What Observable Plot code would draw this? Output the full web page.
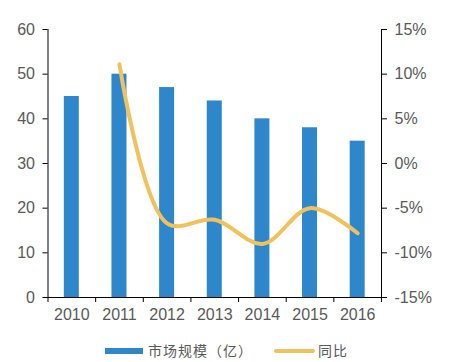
<!DOCTYPE html>
<html>
<head>
<meta charset="utf-8">
<script src="https://cdn.jsdelivr.net/npm/d3@7"></script>
<script src="https://cdn.jsdelivr.net/npm/@observablehq/plot@0.6"></script>
<style>
  html, body { margin: 0; padding: 0; background: #fff; }
  #wrap { position: relative; width: 463px; height: 362px; font-family: "Liberation Sans", Arial, sans-serif; }
  .sw { position: absolute; }
  .lt { position: absolute; font-family: "Noto Sans CJK SC", sans-serif; font-size: 14px; color: #595959; line-height: 14px; letter-spacing: 1px; }
</style>
</head>
<body>
<div id="wrap"></div>
<script>
const years = ["2010", "2011", "2012", "2013", "2014", "2015", "2016"];
const marketSize = [45, 50, 47, 44, 40, 38, 35];
const yoyYears = ["2011", "2012", "2013", "2014", "2015", "2016"];
const yoyPct = [11.1, -6.7, -6.3, -9.0, -5.0, -7.8];
const leftTicks = [0, 10, 20, 30, 40, 50, 60];
const rightTickLabels = ["-15%", "-10%", "-5%", "0%", "5%", "10%", "15%"];

const barColor = "#2e87cb";
const lineColor = "#f0c15c";
const textColor = "#595959";

const W = 463, H = 335;
const mL = 47.5, mR = 82, mT = 29, mB = 38;
const step = (W - mL - mR) / years.length;
const barW = 15;

const bars = years.map((y, i) => ({year: y, value: marketSize[i]}));
// map percent (-15..15) onto left scale (0..60)
const yoy = yoyYears.map((y, i) => ({year: y, v: (yoyPct[i] + 15) * 2}));

const chart = Plot.plot({
  width: W, height: H,
  marginLeft: mL, marginRight: mR, marginTop: mT, marginBottom: mB,
  style: {fontFamily: "'Liberation Sans', Arial, sans-serif", fontSize: "16px", color: textColor, background: "#fff"},
  x: {domain: years, padding: 0, round: false, label: null},
  y: {domain: [0, 60], label: null},
  marks: [
    Plot.barY(bars, {x: "year", y: "value", fill: barColor, insetLeft: (step - barW) / 2, insetRight: (step - barW) / 2}),
    Plot.line(yoy, {x: "year", y: "v", stroke: lineColor, strokeWidth: 4, curve: "catmull-rom", strokeLinecap: "round"}),
    Plot.axisY({ticks: leftTicks, tickSize: 5, tickPadding: 8, stroke: "#000", fill: textColor, label: null}),
    Plot.axisY({anchor: "right", ticks: leftTicks, tickSize: 5, tickPadding: 8, stroke: "#000", fill: textColor, label: null,
      tickFormat: (d) => rightTickLabels[leftTicks.indexOf(d)]}),
    Plot.axisX({tickSize: 0, tickPadding: 11, fill: textColor, label: null}),
    Plot.axisX({tickSize: 5, tickFormat: () => "", dx: -step / 2, stroke: "#000", label: null}),
    Plot.axisX({ticks: [years[years.length - 1]], tickSize: 5, tickFormat: () => "", dx: step / 2, stroke: "#000", label: null}),
    Plot.frame({anchor: "left", stroke: "#000"}),
    Plot.frame({anchor: "right", stroke: "#000"}),
    Plot.ruleY([0], {stroke: "#000"})
  ]
});
const wrap = document.getElementById("wrap");
wrap.appendChild(chart);

// legend
const legend = [
  {kind: "bar", label: "市场规模（亿）", color: barColor, x: 105, w: 38, tx: 148},
  {kind: "line", label: "同比", color: lineColor, x: 274, w: 41, tx: 318}
];
for (const it of legend) {
  const s = document.createElement("div");
  s.className = "sw";
  s.style.left = it.x + "px";
  s.style.width = it.w + "px";
  s.style.background = it.color;
  if (it.kind === "bar") { s.style.top = "348px"; s.style.height = "6px"; }
  else { s.style.top = "348.5px"; s.style.height = "4.5px"; s.style.borderRadius = "3px"; }
  wrap.appendChild(s);
  const t = document.createElement("div");
  t.className = "lt";
  t.style.left = it.tx + "px";
  t.style.top = "343px";
  t.textContent = it.label;
  wrap.appendChild(t);
}
</script>
</body>
</html>
